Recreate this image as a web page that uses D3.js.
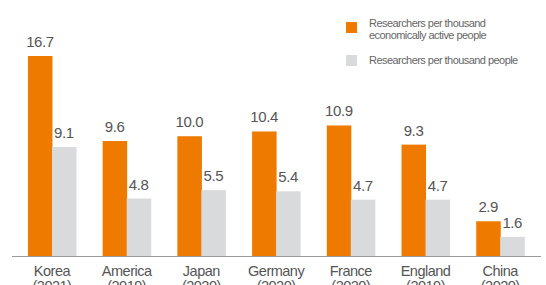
<!DOCTYPE html>
<html>
<head>
<meta charset="utf-8">
<script src="https://cdn.jsdelivr.net/npm/d3@7"></script>
<style>
  body { margin: 0; background: #fff; }
  svg { display: block; font-family: "Liberation Sans", Arial, sans-serif; }
</style>
</head>
<body>
<script>
// chart data
var countries = ["Korea", "America", "Japan", "Germany", "France", "England", "China"];
var years = ["(2021)", "(2019)", "(2020)", "(2020)", "(2020)", "(2019)", "(2020)"];
var activePeople = [16.7, 9.6, 10.0, 10.4, 10.9, 9.3, 2.9];
var allPeople = [9.1, 4.8, 5.5, 5.4, 4.7, 4.7, 1.6];
var seriesNames = ["Researchers per thousand|economically active people", "Researchers per thousand people"];
var colors = ["#ee7a00", "#d9dadb"];

var w = 546, h = 285;
var baseY = 256;

var svg = d3.select("body").append("svg")
    .attr("width", w)
    .attr("height", h);

// group scale
var x = d3.scaleBand()
    .domain(countries)
    .range([14.6, 537.6])
    .paddingInner(0.357)
    .paddingOuter(0.1785);

var xSub = d3.scaleBand()
    .domain([0, 1])
    .range([0, x.bandwidth()]);

var y = d3.scaleLinear()
    .domain([0, 16.7])
    .range([baseY, 56]);

var rows = countries.map(function(c, i){
    return { country: c, year: years[i], vals: [activePeople[i], allPeople[i]] };
});

var groups = svg.selectAll(".group")
    .data(rows)
    .enter()
    .append("g")
    .attr("class", "group")
    .attr("transform", function(d){ return "translate(" + x(d.country) + ",0)"; });

var bars = groups.selectAll("rect")
    .data(function(d){ return d.vals.map(function(v, k){ return { v: v, k: k }; }); })
    .enter();

bars.append("rect")
    .attr("x", function(d){ return xSub(d.k); })
    .attr("y", function(d){ return y(d.v); })
    .attr("width", xSub.bandwidth() + 0.5)
    .attr("height", function(d){ return baseY - y(d.v); })
    .style("fill", function(d){ return colors[d.k]; });

bars.append("text")
    .attr("x", function(d){ return xSub(d.k) + xSub.bandwidth() / 2; })
    .attr("y", function(d){ return y(d.v) - 9; })
    .attr("text-anchor", "middle")
    .style("font-size", "15px")
    .style("letter-spacing", "-0.4px")
    .style("fill", "#555")
    .text(function(d){ return d.v.toFixed(1); });

// baseline
svg.append("line")
    .attr("x1", 12)
    .attr("x2", 541)
    .attr("y1", baseY + 0.5)
    .attr("y2", baseY + 0.5)
    .style("stroke", "#9a9a9a")
    .style("stroke-width", 1.2);

// category labels (the year line runs off the bottom edge, as in the original)
var labels = groups.append("text")
    .attr("text-anchor", "middle")
    .style("font-size", "14.5px")
    .style("letter-spacing", "-0.5px")
    .style("fill", "#555");

labels.append("tspan")
    .attr("x", x.bandwidth() / 2)
    .attr("y", 276)
    .text(function(d){ return d.country; });

labels.append("tspan")
    .attr("x", x.bandwidth() / 2)
    .attr("y", 291)
    .text(function(d){ return d.year; });

// legend
var legendY = [22, 55];
var legend = svg.selectAll(".legend")
    .data(seriesNames)
    .enter()
    .append("g")
    .attr("class", "legend")
    .attr("transform", function(d, i){ return "translate(346," + legendY[i] + ")"; });

legend.append("rect")
    .attr("width", 11)
    .attr("height", 11)
    .style("fill", function(d, i){ return colors[i]; });

legend.each(function(d){
    var t = d3.select(this).append("text")
        .style("font-size", "11px")
        .style("letter-spacing", "-0.55px")
        .style("fill", "#666");
    d.split("|").forEach(function(line, j){
        t.append("tspan")
            .attr("x", 23)
            .attr("y", j === 0 ? (d.indexOf("|") > 0 ? 5 : 9) : 17)
            .text(line);
    });
});
</script>
</body>
</html>
